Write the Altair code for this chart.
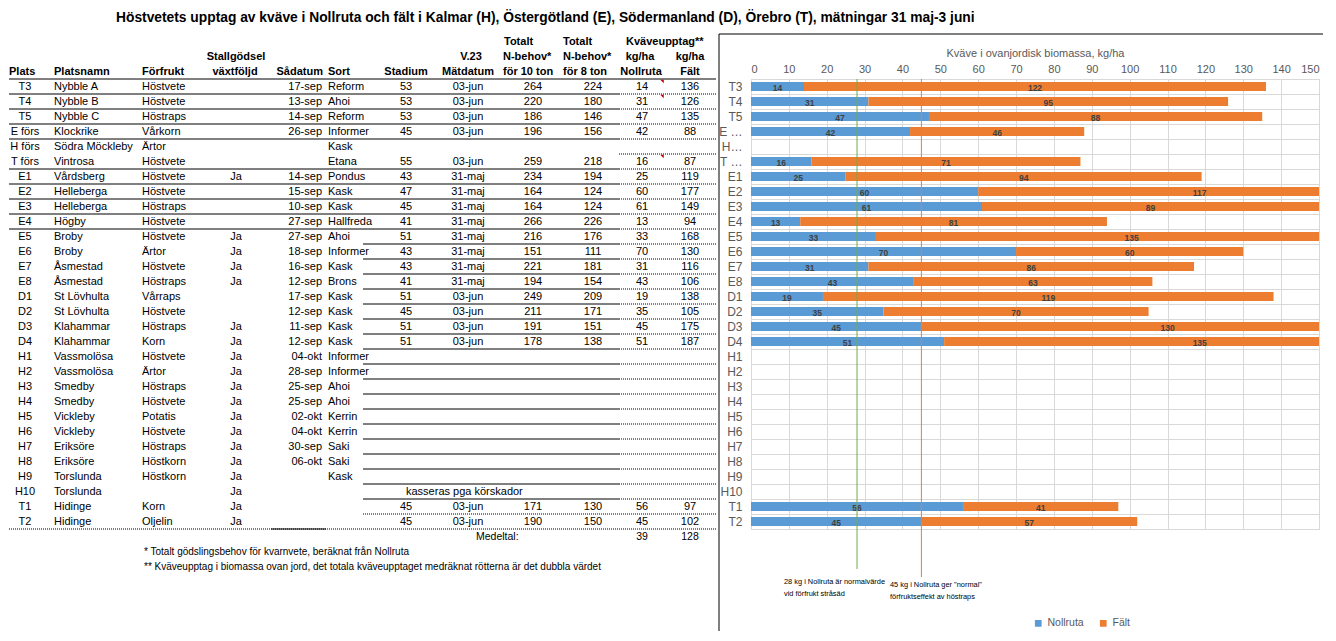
import altair as alt
import pandas as pd

FONT = "Liberation Sans"
BLUE = "#5B9BD5"
ORANGE = "#ED7D31"
GREEN = "#70AD47"
GRID = "#D9D9D9"
AXC = "#595959"

# ---------------- data ----------------
title_text = ("Höstvetets upptag av kväve i Nollruta och fält i Kalmar (H), Östergötland (E), "
              "Södermanland (D), Örebro (T), mätningar 31 maj-3 juni")

plats = ["T3", "T4", "T5", "E förs", "H förs", "T förs", "E1", "E2", "E3", "E4", "E5", "E6", "E7", "E8",
         "D1", "D2", "D3", "D4", "H1", "H2", "H3", "H4", "H5", "H6", "H7", "H8", "H9", "H10", "T1", "T2"]
platsnamn = ["Nybble A", "Nybble B", "Nybble C", "Klockrike", "Södra Möckleby", "Vintrosa", "Vårdsberg",
             "Helleberga", "Helleberga", "Högby", "Broby", "Broby", "Åsmestad", "Åsmestad", "St Lövhulta",
             "St Lövhulta", "Klahammar", "Klahammar", "Vassmolösa", "Vassmolösa", "Smedby", "Smedby",
             "Vickleby", "Vickleby", "Eriksöre", "Eriksöre", "Torslunda", "Torslunda", "Hidinge", "Hidinge"]
forfrukt = ["Höstvete", "Höstvete", "Höstraps", "Vårkorn", "Ärtor", "Höstvete", "Höstvete", "Höstvete",
            "Höstraps", "Höstvete", "Höstvete", "Ärtor", "Höstvete", "Höstraps", "Vårraps", "Höstvete",
            "Höstraps", "Korn", "Höstvete", "Ärtor", "Höstraps", "Höstvete", "Potatis", "Höstvete",
            "Höstraps", "Höstkorn", "Höstkorn", "", "Korn", "Oljelin"]
stallgodsel = ["", "", "", "", "", "", "Ja", "", "", "", "Ja", "Ja", "Ja", "Ja", "", "", "Ja", "Ja",
               "Ja", "Ja", "Ja", "Ja", "Ja", "Ja", "Ja", "Ja", "Ja", "Ja", "Ja", "Ja"]
sadatum = ["17-sep", "13-sep", "14-sep", "26-sep", "", "", "14-sep", "15-sep", "10-sep", "27-sep",
           "27-sep", "18-sep", "16-sep", "12-sep", "17-sep", "12-sep", "11-sep", "12-sep", "04-okt",
           "28-sep", "25-sep", "25-sep", "02-okt", "04-okt", "30-sep", "06-okt", "", "", "", ""]
sort_ = ["Reform", "Ahoi", "Reform", "Informer", "Kask", "Etana", "Pondus", "Kask", "Kask", "Hallfreda",
         "Ahoi", "Informer", "Kask", "Brons", "Kask", "Kask", "Kask", "Kask", "Informer", "Informer",
         "Ahoi", "Ahoi", "Kerrin", "Kerrin", "Saki", "Saki", "Kask", "", "", ""]
stadium = [53, 53, 53, 45, None, 55, 43, 47, 45, 41, 51, 43, 43, 41, 51, 45, 51, 51] + [None] * 10 + [45, 45]
matdatum = ["03-jun"] * 4 + [""] + ["03-jun"] + ["31-maj"] * 8 + ["03-jun"] * 4 + [""] * 10 + ["03-jun"] * 2
nbehov_10 = [264, 220, 186, 196, None, 259, 234, 164, 164, 266, 216, 151, 221, 194, 249, 211, 191, 178] \
    + [None] * 10 + [171, 190]
nbehov_8 = [224, 180, 146, 156, None, 218, 194, 124, 124, 226, 176, 111, 181, 154, 209, 171, 151, 138] \
    + [None] * 10 + [130, 150]
nollruta = [14, 31, 47, 42, None, 16, 25, 60, 61, 13, 33, 70, 31, 43, 19, 35, 45, 51] + [None] * 10 + [56, 45]
falt = [136, 126, 135, 88, None, 87, 119, 177, 149, 94, 168, 130, 116, 106, 138, 105, 175, 187] \
    + [None] * 10 + [97, 102]
falt_okning = [122, 95, 88, 46, None, 71, 94, 117, 89, 81, 135, 60, 86, 63, 119, 70, 130, 135] \
    + [None] * 10 + [41, 57]

kommentar_rader = ["T3", "T4", "T förs"]
anm_rad = "H10"
anm_text = "kasseras pga körskador"
medeltal_text = "Medeltal:"
medeltal = [39, 128]
fotnoter = ["* Totalt gödslingsbehov för  kvarnvete, beräknat från Nollruta",
            "** Kväveupptag i biomassa ovan jord, det totala kväveupptaget medräknat rötterna är det dubbla värdet"]
serier = ["Nollruta", "Fält"]
ref_varden = [28, 45]
ref_texter = ["28 kg i Nollruta är normalvärde\nvid förfrukt stråsäd",
              '45 kg i Nollruta ger "normal"\nförfruktseffekt av höstraps']
x_titel = "Kväve i ovanjordisk biomassa, kg/ha"
x_ticks = [0, 10, 20, 30, 40, 50, 60, 70, 80, 90, 100, 110, 120, 130, 140, 150]

# header lines: (text, line index 0..2)
rubriker = [
    ("Plats", 2), ("Platsnamn", 2), ("Förfrukt", 2), ("Stallgödsel", 1), ("växtföljd", 2),
    ("Sådatum", 2), ("Sort", 2), ("Stadium", 2), ("V.23", 1), ("Mätdatum", 2),
    ("Totalt", 0), ("N-behov*", 1), ("för 10 ton", 2),
    ("Totalt", 0), ("N-behov*", 1), ("för 8 ton", 2),
    ("Kväveupptag**", 0), ("kg/ha", 1), ("Nollruta", 2), ("kg/ha", 1), ("Fält", 2),
]

# ---------------- layout (page pixel positions of table columns) ----------------
TW = 702           # table plot width (page x 8 .. 710)
X0 = 8
ROW_H = 15
rubrik_pos = [(8, "left"), (53, "left"), (141, "left"), (235, "center"), (234, "center"),
              (322, "right"), (327, "left"), (405, "center"), (470, "center"), (467, "center"),
              (503, "left"), (502, "left"), (502, "left"),
              (562, "left"), (562, "left"), (562, "left"),
              (625, "left"), (639, "center"), (640, "center"), (689, "center"), (689, "center")]
kolumner = [(plats, 24, "center"), (platsnamn, 53, "left"), (forfrukt, 141, "left"),
            (stallgodsel, 235, "center"), (sadatum, 321, "right"), (sort_, 327, "left"),
            (stadium, 405, "center"), (matdatum, 467, "center"), (nbehov_10, 532, "center"),
            (nbehov_8, 592, "center"), (nollruta, 641, "center"), (falt, 689, "center")]


def fmt(v):
    return "" if v is None else str(v)


footer_rows = ["medel", "fn1", "fn2"]
table_rows = plats + footer_rows

body = []
for i, p in enumerate(plats):
    for vals, x, al in kolumner:
        t = fmt(vals[i])
        if t:
            body.append({"row": p, "x": x, "align": al, "text": t})
body.append({"row": anm_rad, "x": 405, "align": "left", "text": anm_text})
body_df = pd.DataFrame(body)

foot_df = pd.DataFrame([
    {"row": "medel", "x": 475, "align": "left", "text": medeltal_text, "size": 10.5},
    {"row": "medel", "x": 641, "align": "center", "text": str(medeltal[0]), "size": 10.5},
    {"row": "medel", "x": 689, "align": "center", "text": str(medeltal[1]), "size": 10.5},
    {"row": "fn1", "x": 143, "align": "left", "text": fotnoter[0], "size": 10},
    {"row": "fn2", "x": 143, "align": "left", "text": fotnoter[1], "size": 10},
])

head_df = pd.DataFrame([{"text": t, "line": ln, "x": pos[0], "align": pos[1]}
                        for (t, ln), pos in zip(rubriker, rubrik_pos)])

# row separator segments
sep = []
for i, p in enumerate(plats):
    if i <= 9:
        if p != "H förs":
            sep.append({"row": p, "x1": 8, "x2": 618, "dash": "solid"})
        sep.append({"row": p, "x1": 618, "x2": 715, "dash": "dot"})
    elif i <= 27:
        sep.append({"row": p, "x1": 362, "x2": 618, "dash": "solid"})
        sep.append({"row": p, "x1": 618, "x2": 715, "dash": "dot"})
    elif p == "T1":
        sep.append({"row": p, "x1": 362, "x2": 715, "dash": "dot"})
    else:
        sep.append({"row": p, "x1": 8, "x2": 715, "dash": "dot"})
        sep.append({"row": p, "x1": 270, "x2": 325, "dash": "solid"})
sep_df = pd.DataFrame(sep)

XT = alt.Scale(domain=[X0, X0 + TW], nice=False, zero=False)
YT = alt.Scale(type="band", domain=table_rows, paddingInner=0, paddingOuter=0)


def xt(field):
    return alt.X(field, scale=XT, axis=None)


def yt(**kw):
    return alt.Y("row:N", scale=YT, axis=None, **kw)


layers = []
for al in ["left", "center", "right"]:
    sub = body_df[body_df["align"] == al]
    if len(sub):
        layers.append(alt.Chart(sub).mark_text(align=al, baseline="middle", font=FONT, fontSize=11,
                                               color="black")
                      .encode(x=xt("x:Q"), y=yt(), text="text:N"))
    subf = foot_df[foot_df["align"] == al]
    if len(subf):
        for sz in sorted(subf["size"].unique()):
            s2 = subf[subf["size"] == sz]
            layers.append(alt.Chart(s2).mark_text(align=al, baseline="middle", font=FONT,
                                                  fontSize=float(sz), color="black")
                          .encode(x=xt("x:Q"), y=yt(), text="text:N"))

for ln in range(3):
    for al in ["left", "center", "right"]:
        sub = head_df[(head_df["line"] == ln) & (head_df["align"] == al)]
        if len(sub):
            layers.append(alt.Chart(sub).mark_text(align=al, baseline="middle", font=FONT, fontSize=11,
                                                   fontWeight="bold", color="black")
                          .encode(x=xt("x:Q"), y=alt.value(-45 + ROW_H * ln + 7.5), text="text:N"))

# header underline
layers.append(alt.Chart(pd.DataFrame({"x1": [8], "x2": [715]})).mark_rule(color="black", strokeWidth=1)
              .encode(x=xt("x1:Q"), x2="x2:Q", y=alt.value(0)))
# separators
layers.append(alt.Chart(sep_df[sep_df["dash"] == "solid"]).mark_rule(color="black", strokeWidth=1)
              .encode(x=xt("x1:Q"), x2="x2:Q", y=yt(bandPosition=1)))
layers.append(alt.Chart(sep_df[sep_df["dash"] == "dot"]).mark_rule(color="black", strokeWidth=1,
                                                                   strokeDash=[1, 1])
              .encode(x=xt("x1:Q"), x2="x2:Q", y=yt(bandPosition=1)))
# comment markers
layers.append(alt.Chart(pd.DataFrame({"row": kommentar_rader, "x": [661] * len(kommentar_rader)}))
              .mark_point(shape="M-1,-1L1,-1L1,1Z", size=12, filled=True, color="#C00000",
                          strokeWidth=0, opacity=1, yOffset=-5)
              .encode(x=xt("x:Q"), y=yt()))

table = alt.layer(*layers).properties(width=TW, height=ROW_H * len(table_rows),
                                      view=alt.ViewBackground(strokeOpacity=0))

# ---------------- bar chart ----------------
CW = 568
long = []
for i, p in enumerate(plats):
    if nollruta[i] is not None:
        long.append({"Plats": p, "serie": serier[0], "varde": nollruta[i], "ordning": 0})
        long.append({"Plats": p, "serie": serier[1], "varde": falt_okning[i], "ordning": 1})
long_df = pd.DataFrame(long)

XC = alt.Scale(domain=[0, 150], nice=False, clamp=True)
YC = alt.Scale(type="band", domain=plats, paddingInner=0, paddingOuter=0)
x_axis = alt.Axis(orient="top", values=x_ticks, grid=True, gridColor=GRID, ticks=False, domain=False,
                  labelFontSize=11, labelColor=AXC, labelFont=FONT, labelPadding=5,
                  title=x_titel, titleFontSize=11, titleFontWeight="normal", titleColor=AXC,
                  titleFont=FONT, titlePadding=5)
y_axis = alt.Axis(tickBand="extent", grid=True, gridColor=GRID, ticks=False, domain=False,
                  labelFontSize=12, labelColor=AXC, labelFont=FONT, labelLimit=24, labelPadding=9,
                  title=None)

base = (alt.Chart(long_df)
        .transform_stack(stack="varde", groupby=["Plats"], as_=["x0", "x1"],
                         sort=[alt.SortField("ordning", order="ascending")])
        .transform_calculate(mid="(datum.x0 + datum.x1) / 2"))

bars = base.mark_bar(size=9).encode(
    x=alt.X("x0:Q", scale=XC, axis=x_axis),
    x2="x1:Q",
    y=alt.Y("Plats:N", scale=YC, axis=y_axis),
    color=alt.Color("serie:N", scale=alt.Scale(domain=serier, range=[BLUE, ORANGE]),
                    legend=alt.Legend(orient="none", legendX=282, legendY=539, direction="horizontal",
                                      title=None, symbolType="square", symbolSize=45,
                                      symbolStrokeWidth=0, labelFontSize=10.5, labelColor=AXC,
                                      labelFont=FONT, columnPadding=14)),
)
labels = base.mark_text(fontSize=8.5, fontWeight="bold", color="#404040", font=FONT,
                        baseline="middle", dy=1).encode(
    x=alt.X("mid:Q", scale=XC, axis=x_axis),
    y=alt.Y("Plats:N", scale=YC, axis=y_axis),
    text="varde:Q",
)
ref_df = pd.DataFrame({"varde": ref_varden})
ref_green = alt.Chart(ref_df.iloc[[0]]).mark_rule(color=GREEN, strokeWidth=1).encode(
    x=alt.X("varde:Q", scale=XC, axis=x_axis), y=alt.value(0), y2=alt.value(490))
ref_orange = alt.Chart(ref_df.iloc[[1]]).mark_rule(color=ORANGE, strokeWidth=1).encode(
    x=alt.X("varde:Q", scale=XC, axis=x_axis), y=alt.value(0), y2=alt.value(498))
ann1 = alt.Chart(pd.DataFrame({"t": [ref_texter[0]]})).mark_text(
    align="left", baseline="middle", fontSize=7.4, font=FONT, color="black", lineBreak="\n",
    lineHeight=12).encode(x=alt.value(33), y=alt.value(502.5), text="t:N")
ann2 = alt.Chart(pd.DataFrame({"t": [ref_texter[1]]})).mark_text(
    align="left", baseline="middle", fontSize=7.4, font=FONT, color="black", lineBreak="\n",
    lineHeight=12).encode(x=alt.value(139), y=alt.value(505.5), text="t:N")
border_v = alt.Chart(pd.DataFrame({"a": [0]})).mark_rule(color="black", strokeWidth=1).encode(
    x=alt.value(-32), y=alt.value(-45), y2=alt.value(552))
border_h = alt.Chart(pd.DataFrame({"a": [0]})).mark_rule(color="black", strokeWidth=1).encode(
    x=alt.value(-32), x2=alt.value(CW + 4), y=alt.value(-45))

chart = alt.layer(bars, labels, ref_green, ref_orange, ann1, ann2, border_v, border_h).properties(
    width=CW, height=ROW_H * len(plats), view=alt.ViewBackground(stroke=GRID))

full = (alt.hconcat(table, chart, spacing=40, bounds="flush")
        .resolve_scale(x="independent", y="independent", color="independent")
        .resolve_legend(color="independent")
        .properties(
            title=alt.TitleParams(text=title_text, anchor="start", frame="group", dx=107, fontSize=13.8,
                                  font=FONT, fontWeight="bold", color="black", offset=8),
            padding={"left": 0, "right": 0, "top": 3, "bottom": 0})
        .configure(font=FONT))

full.save("out.html", embed_options={"renderer": "svg", "actions": False})
